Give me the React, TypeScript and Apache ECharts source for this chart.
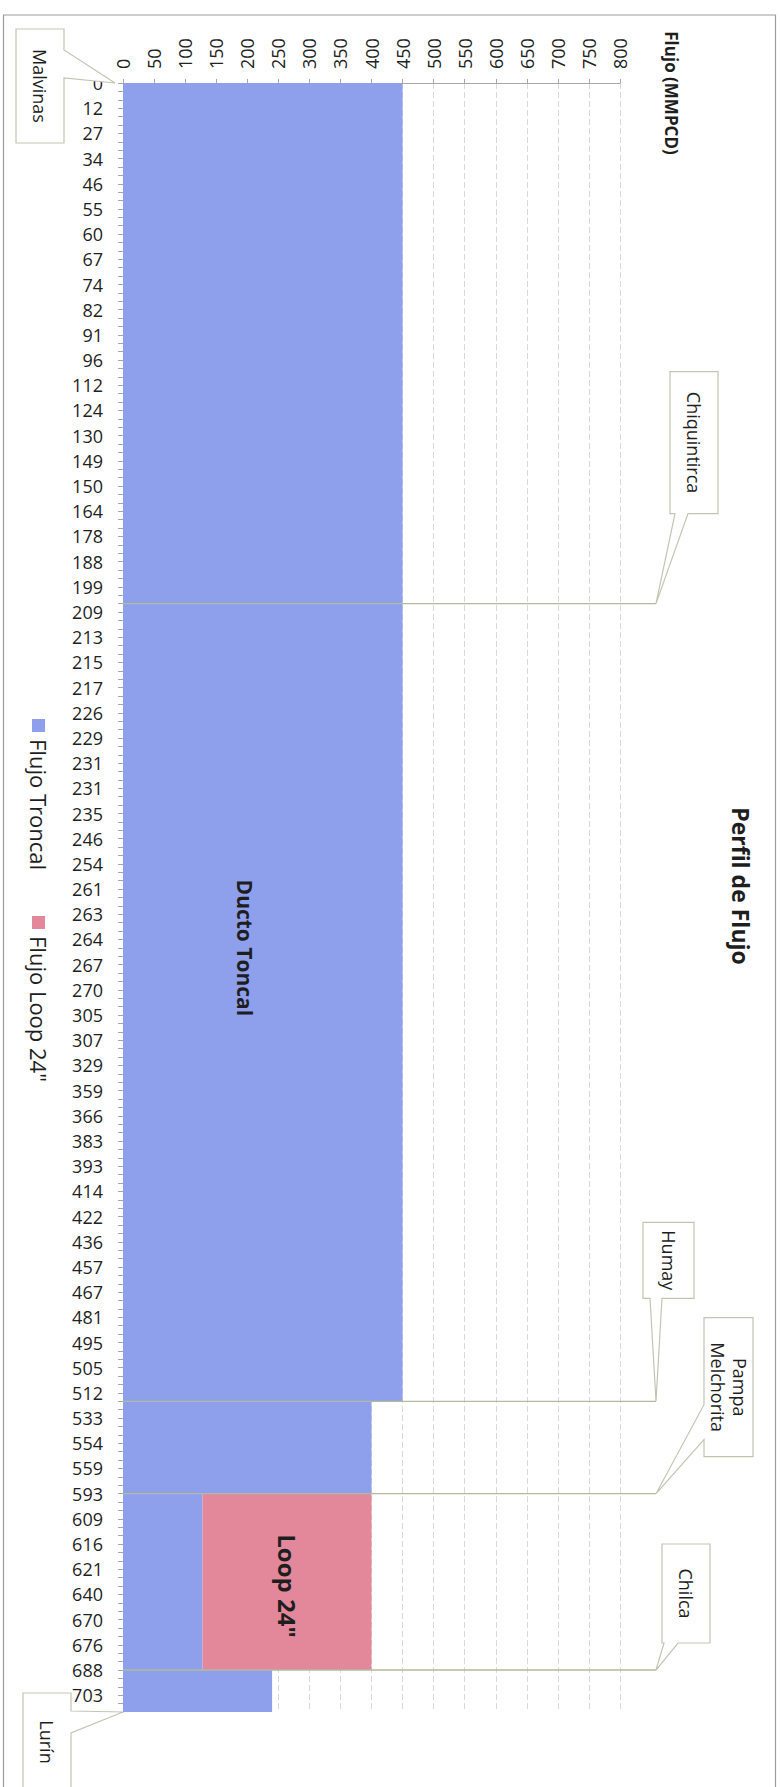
import { useEffect, useRef } from 'react';
import * as echarts from 'echarts';

// Kilometre marks printed along the pipeline axis (one every third sample)
const kmLabels = [
  '0', '12', '27', '34', '46', '55', '60', '67', '74', '82', '91', '96', '112', '124', '130', '149',
  '150', '164', '178', '188', '199', '209', '213', '215', '217', '226', '229', '231', '231', '235',
  '246', '254', '261', '263', '264', '267', '270', '305', '307', '329', '359', '366', '383', '393',
  '414', '422', '436', '457', '467', '481', '495', '505', '512', '533', '554', '559', '593', '609',
  '616', '621', '640', '670', '676', '688', '703',
];
const SAMPLES_PER_LABEL = 3;
const SAMPLE_COUNT = 195;

// Stations and the sample where each one sits
const stationNames = ['Malvinas', 'Chiquintirca', 'Humay', 'Pampa\nMelchorita', 'Chilca', 'Lurín'];
const stationSample = [0, 62, 157, 168, 189, 194];

// Flow leaving each station towards the next one (MMPCD)
const troncalFlow = [450, 450, 400, 128, 240];
const loopFlow = [0, 0, 0, 272, 0];

// Value axis
const flowMin = 0;
const flowMax = 800;
const flowStep = 50;

const FONT = '"Open Sans", "Liberation Sans", sans-serif';
const BLUE = '#8e9fec';
const PINK = '#e2889a';
const LINE = '#b3baa0';
const BOX = '#c3c5b3';

const segmentOf = (i: number) => {
  let s = 0;
  while (s < troncalFlow.length - 1 && i >= stationSample[s + 1]) s++;
  return s;
};

const samples = Array.from({ length: SAMPLE_COUNT }, (_, i) => i);
const troncalData = samples.map((i) => troncalFlow[segmentOf(i)]);
const loopData = samples.map((i) => loopFlow[segmentOf(i)]);

// Callout balloons: box and pointer geometry relative to the tip
type Wedge = ['bottom' | 'left' | 'right', number, number];
const callouts: { anchor: 'left' | 'right'; tipDx: number; box: number[]; wedge: Wedge; textDy?: number }[] = [
  { anchor: 'left', tipDx: -8, box: [-99, -54, 48, 114], wedge: ['right', -33, -5] },
  { anchor: 'right', tipDx: 36, box: [14, -232, 48, 142], wedge: ['bottom', 19, 32] },
  { anchor: 'right', tipDx: 36, box: [-13, -179, 51, 76], wedge: ['bottom', -6, 6] },
  { anchor: 'right', tipDx: 36, box: [48, -176, 49, 139], wedge: ['left', -89, -54] },
  { anchor: 'right', tipDx: 36, box: [6, -126, 48, 99], wedge: ['bottom', 8, 22] },
  { anchor: 'left', tipDx: 0, box: [-100, -19, 48, 110], wedge: ['right', -1, 21], textDy: -6 },
];

const CW = -Math.PI / 2;

const vText = (text: string, x: number, y: number, size: number, weight: string, align = 'center') => ({
  type: 'text',
  x,
  y,
  rotation: CW,
  z: 120,
  silent: true,
  style: {
    text,
    fontFamily: FONT,
    fontSize: size,
    fontWeight: weight,
    fill: '#1e1e1e',
    align,
    verticalAlign: 'middle',
    lineHeight: size + 4,
  },
});

export default function App() {
  const ref = useRef<HTMLDivElement>(null);

  useEffect(() => {
    const chart = echarts.init(ref.current!, null, { renderer: 'svg' });

    chart.setOption({
      animation: false,
      backgroundColor: '#ffffff',
      textStyle: { fontFamily: FONT },
      grid: { left: 123, top: 83, right: 161, bottom: 75, containLabel: false },
      xAxis: {
        type: 'value',
        position: 'top',
        min: flowMin,
        max: flowMax,
        interval: flowStep,
        axisLine: { show: true, lineStyle: { color: '#a8a8a8', width: 1 } },
        axisTick: { show: true, length: 4, lineStyle: { color: '#a8a8a8' } },
        axisLabel: { rotate: -90, margin: 14, fontSize: 18, color: '#222222', fontFamily: FONT },
        splitLine: { show: true, lineStyle: { color: '#d9d9d9', type: [6, 3], width: 1 } },
      },
      yAxis: {
        type: 'category',
        inverse: true,
        boundaryGap: false,
        data: samples.map(String),
        axisLine: { show: true, lineStyle: { color: '#a8a8a8', width: 1 } },
        axisTick: { show: true, interval: 0, length: 5, lineStyle: { color: '#a8a8a8' } },
        axisLabel: {
          interval: 0,
          formatter: (_v: string, i: number) => (i % SAMPLES_PER_LABEL === 0 ? kmLabels[i / SAMPLES_PER_LABEL] ?? '' : ''),
          margin: 20,
          fontSize: 18,
          color: '#1f1f1f',
          fontFamily: FONT,
          padding: [8, 0, 0, 0],
        },
        splitLine: { show: false },
      },
      series: [
        {
          name: 'Flujo Troncal',
          type: 'line',
          stack: 'flujo',
          step: 'end',
          symbol: 'none',
          data: troncalData,
          lineStyle: { width: 0, opacity: 0 },
          areaStyle: { color: BLUE, opacity: 1 },
          itemStyle: { color: BLUE },
        },
        {
          name: 'Flujo Loop 24"',
          type: 'line',
          stack: 'flujo',
          step: 'end',
          symbol: 'none',
          data: loopData,
          lineStyle: { width: 0, opacity: 0 },
          areaStyle: { color: PINK, opacity: 1 },
          itemStyle: { color: PINK },
        },
      ],
    });

    const px = (v: number, s: number) => chart.convertToPixel({ xAxisIndex: 0, yAxisIndex: 0 }, [v, s]) as number[];
    const plotLeft = px(flowMin, 0)[0];
    const plotRight = px(flowMax, 0)[0];

    const elements: any[] = [];

    // outer chart frame
    elements.push({
      type: 'rect',
      silent: true,
      z: 130,
      shape: { x: 3.5, y: 15, width: 772, height: 1800 },
      style: { fill: 'none', stroke: '#9c9c9c', lineWidth: 1.2 },
    });

    // title and value-axis name
    elements.push(vText('Perfil de Flujo', 741, 886, 23, 'bold'));
    elements.push(vText('Flujo (MMPCD)', 671, 93, 17, 'bold'));

    // legend
    const legend = [
      { name: 'Flujo Troncal', color: BLUE, y: 719 },
      { name: 'Flujo Loop 24"', color: PINK, y: 916 },
    ];
    legend.forEach((it) => {
      elements.push({
        type: 'rect',
        silent: true,
        z: 120,
        shape: { x: 32, y: it.y, width: 13, height: 13 },
        style: { fill: it.color },
      });
      elements.push(vText(it.name, 38.5, it.y + 20, 22, 'normal', 'left'));
    });

    // labels inside the areas
    const ducto = px(196, 103);
    elements.push(vText('Ducto Toncal', ducto[0], ducto[1], 21, 'bold'));
    const loop = px(264, 179);
    elements.push(vText('Loop 24"', loop[0], loop[1], 24, 'bold'));

    // station callouts
    stationNames.forEach((name, k) => {
      const c = callouts[k];
      const sy = px(flowMin, stationSample[k])[1];
      const tx = (c.anchor === 'left' ? plotLeft : plotRight) + c.tipDx;
      const tip = [tx, sy];
      if (c.anchor === 'right') {
        elements.push({
          type: 'line',
          silent: true,
          z: 110,
          shape: { x1: plotLeft, y1: sy, x2: tx, y2: sy },
          style: { stroke: LINE, lineWidth: 1.3 },
        });
      }
      const L = tx + c.box[0];
      const T = sy + c.box[1];
      const R = L + c.box[2];
      const B = T + c.box[3];
      const [side, a, b] = c.wedge;
      let pts: number[][];
      if (side === 'bottom') pts = [[L, T], [R, T], [R, B], [tx + b, B], tip, [tx + a, B], [L, B]];
      else if (side === 'right') pts = [[L, T], [R, T], [R, sy + a], tip, [R, sy + b], [R, B], [L, B]];
      else pts = [[L, T], [R, T], [R, B], [L, B], [L, sy + b], tip, [L, sy + a]];
      elements.push({
        type: 'polygon',
        silent: true,
        z: 115,
        shape: { points: pts },
        style: { fill: '#ffffff', stroke: BOX, lineWidth: 1.2 },
      });
      elements.push({
        ...vText(name, (L + R) / 2, (T + B) / 2 + (c.textDy ?? 0), 18, 'normal'),
        z: 121,
      });
    });

    chart.setOption({ graphic: elements });

    return () => chart.dispose();
  }, []);

  return <div ref={ref} style={{ position: 'absolute', left: 0, top: 0, width: 781, height: 1787 }} />;
}
